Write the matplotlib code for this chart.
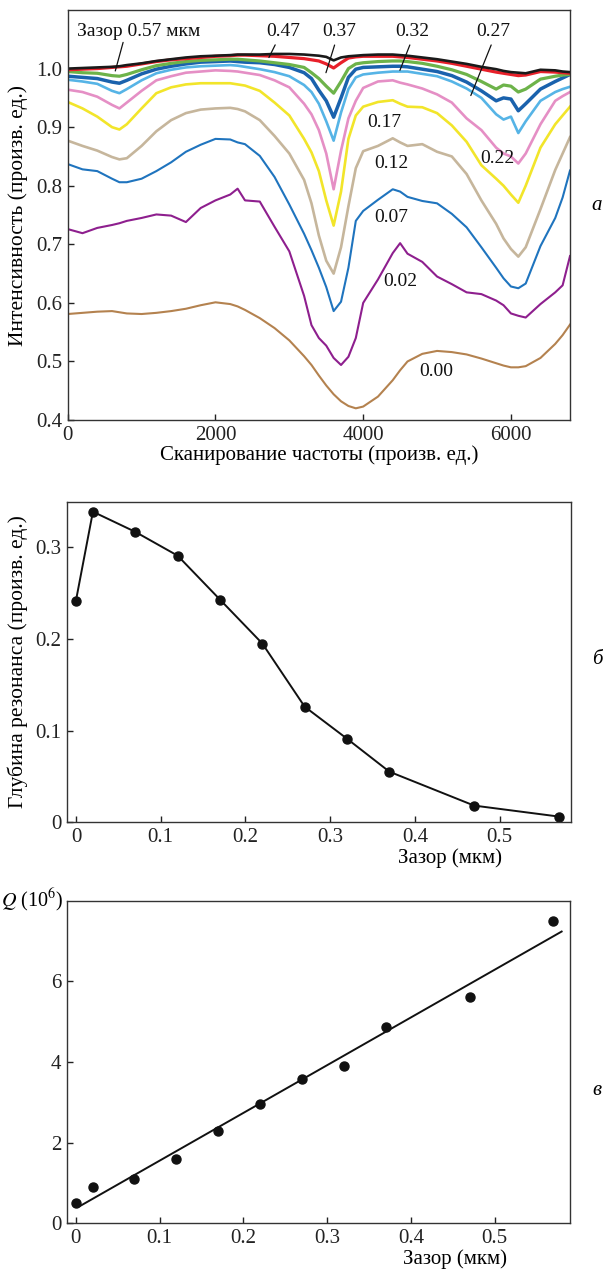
import numpy as np
import matplotlib
matplotlib.use('Agg')
import matplotlib.pyplot as plt

plt.rcParams['font.family'] = ['Liberation Serif', 'DejaVu Serif']
plt.rcParams['mathtext.fontset'] = 'stix'
plt.rcParams['font.size'] = 14

# frequency scan grid (arb. units)
scan = [0, 200, 400, 600, 700, 800, 1000, 1200, 1400, 1600, 1800, 2000, 2200, 2300,
        2400, 2600, 2800, 3000, 3200, 3300, 3400, 3500, 3600, 3700, 3800, 3900, 4000,
        4200, 4400, 4500, 4600, 4800, 5000, 5200, 5400, 5600, 5800, 5900, 6000, 6100,
        6200, 6400, 6600, 6700, 6800]

gap_000 = [0.581, 0.583, 0.585, 0.586, 0.584, 0.582, 0.581, 0.583, 0.586, 0.590, 0.596, 0.601, 0.598, 0.594,
           0.588, 0.574, 0.557, 0.536, 0.509, 0.494, 0.476, 0.459, 0.444, 0.432, 0.424, 0.420, 0.423,
           0.440, 0.468, 0.485, 0.500, 0.513, 0.518, 0.516, 0.512, 0.505, 0.497, 0.493, 0.490, 0.490,
           0.492, 0.506, 0.530, 0.545, 0.563]
gap_002 = [0.726, 0.719, 0.728, 0.733, 0.736, 0.740, 0.745, 0.751, 0.749, 0.738, 0.762, 0.775, 0.785, 0.795,
           0.775, 0.773, 0.730, 0.688, 0.612, 0.562, 0.540, 0.527, 0.506, 0.494, 0.508, 0.540, 0.600,
           0.640, 0.685, 0.702, 0.684, 0.670, 0.645, 0.632, 0.618, 0.615, 0.604, 0.596, 0.582, 0.578,
           0.575, 0.598, 0.618, 0.630, 0.680]
gap_007 = [0.837, 0.828, 0.825, 0.812, 0.806, 0.806, 0.812, 0.825, 0.840, 0.858, 0.870, 0.880, 0.879, 0.874,
           0.871, 0.851, 0.815, 0.768, 0.718, 0.690, 0.660, 0.627, 0.586, 0.602, 0.660, 0.740, 0.757,
           0.776, 0.794, 0.790, 0.781, 0.774, 0.770, 0.752, 0.729, 0.695, 0.660, 0.642, 0.628, 0.625,
           0.633, 0.697, 0.745, 0.780, 0.826]
gap_012 = [0.877, 0.868, 0.860, 0.849, 0.845, 0.847, 0.868, 0.893, 0.912, 0.924, 0.930, 0.932, 0.933, 0.931,
           0.927, 0.912, 0.885, 0.855, 0.810, 0.770, 0.715, 0.672, 0.650, 0.695, 0.765, 0.830, 0.859,
           0.868, 0.881, 0.874, 0.868, 0.871, 0.858, 0.850, 0.820, 0.775, 0.735, 0.710, 0.692, 0.679,
           0.695, 0.760, 0.827, 0.855, 0.883]
gap_017 = [0.943, 0.932, 0.918, 0.900, 0.896, 0.905, 0.932, 0.958, 0.968, 0.973, 0.975, 0.975, 0.975, 0.973,
           0.971, 0.962, 0.942, 0.920, 0.880, 0.857, 0.825, 0.775, 0.732, 0.790, 0.880, 0.920, 0.935,
           0.943, 0.946, 0.940, 0.935, 0.934, 0.924, 0.903, 0.875, 0.835, 0.812, 0.800, 0.785, 0.771,
           0.800, 0.865, 0.905, 0.920, 0.935]
gap_022 = [0.964, 0.960, 0.952, 0.938, 0.932, 0.942, 0.962, 0.980, 0.987, 0.993, 0.995, 0.997, 0.996, 0.995,
           0.993, 0.989, 0.980, 0.968, 0.940, 0.922, 0.895, 0.855, 0.794, 0.860, 0.915, 0.945, 0.967,
           0.978, 0.980, 0.976, 0.973, 0.966, 0.956, 0.942, 0.915, 0.895, 0.865, 0.855, 0.850, 0.838,
           0.855, 0.905, 0.945, 0.953, 0.960]
gap_027 = [0.981, 0.978, 0.974, 0.962, 0.958, 0.965, 0.980, 0.992, 0.998, 1.002, 1.004, 1.005, 1.006, 1.005,
           1.003, 0.999, 0.994, 0.987, 0.972, 0.960, 0.940, 0.910, 0.877, 0.925, 0.965, 0.985, 0.990,
           0.993, 0.995, 0.995, 0.995, 0.991, 0.987, 0.978, 0.966, 0.950, 0.922, 0.913, 0.918, 0.890,
           0.910, 0.945, 0.960, 0.965, 0.969]
gap_032 = [0.987, 0.985, 0.983, 0.977, 0.975, 0.980, 0.991, 0.999, 1.004, 1.008, 1.011, 1.012, 1.013, 1.012,
           1.011, 1.010, 1.007, 1.002, 0.993, 0.983, 0.963, 0.945, 0.917, 0.950, 0.985, 0.999, 1.002,
           1.003, 1.004, 1.004, 1.003, 0.999, 0.995, 0.988, 0.977, 0.962, 0.945, 0.950, 0.948, 0.928,
           0.940, 0.965, 0.978, 0.984, 0.990]
gap_037 = [0.995, 0.993, 0.992, 0.988, 0.987, 0.990, 0.998, 1.005, 1.009, 1.012, 1.014, 1.015, 1.016, 1.016,
           1.015, 1.013, 1.010, 1.007, 1.002, 0.993, 0.983, 0.970, 0.958, 0.978, 1.000, 1.008, 1.010,
           1.012, 1.013, 1.013, 1.012, 1.009, 1.004, 0.998, 0.990, 0.978, 0.965, 0.972, 0.970, 0.960,
           0.965, 0.982, 0.987, 0.989, 0.990]
gap_047 = [0.998, 0.999, 1.000, 1.002, 1.003, 1.004, 1.008, 1.012, 1.015, 1.017, 1.019, 1.021, 1.022, 1.023,
           1.023, 1.022, 1.021, 1.019, 1.017, 1.015, 1.013, 1.008, 1.001, 1.010, 1.018, 1.020, 1.021,
           1.021, 1.021, 1.020, 1.019, 1.016, 1.013, 1.009, 1.004, 0.999, 0.994, 0.992, 0.990, 0.988,
           0.989, 0.995, 0.994, 0.993, 0.992]
gap_057 = [1.000, 1.001, 1.002, 1.003, 1.004, 1.006, 1.009, 1.013, 1.016, 1.019, 1.021, 1.022, 1.023, 1.024,
           1.024, 1.024, 1.025, 1.025, 1.024, 1.023, 1.022, 1.020, 1.014, 1.019, 1.021, 1.022, 1.023,
           1.024, 1.024, 1.023, 1.022, 1.019, 1.016, 1.012, 1.008, 1.003, 0.999, 0.996, 0.994, 0.993,
           0.992, 0.998, 0.997, 0.995, 0.994]

# panels б and в
gaps = [0.0, 0.02, 0.07, 0.12, 0.17, 0.22, 0.27, 0.32, 0.37, 0.47, 0.57]
depth = [0.242, 0.339, 0.317, 0.291, 0.243, 0.195, 0.126, 0.091, 0.055, 0.018, 0.006]
q_factor = [0.5, 0.9, 1.1, 1.6, 2.3, 2.97, 3.58, 3.91, 4.87, 5.62, 7.5]

curves = [
    (gap_000, '#b4824f', 1.5),
    (gap_002, '#8e1f8e', 1.5),
    (gap_007, '#1f74be', 1.5),
    (gap_012, '#c6b69c', 1.9),
    (gap_017, '#f2e52a', 1.9),
    (gap_022, '#e58fc5', 1.9),
    (gap_027, '#56b4e6', 1.9),
    (gap_032, '#1a62ad', 2.5),
    (gap_037, '#6db34a', 2.3),
    (gap_047, '#e8202a', 2.3),
    (gap_057, '#1a1a1a', 1.9),
]

fig = plt.figure(figsize=(6.03, 12.69), dpi=100)
ax1 = fig.add_axes([0.1123, 0.669, 0.833, 0.3231])
ax2 = fig.add_axes([0.1111, 0.3522, 0.8353, 0.2525])
ax3 = fig.add_axes([0.1111, 0.036, 0.8342, 0.2542])

for ax in (ax1, ax2, ax3):
    for s in ax.spines.values():
        s.set_linewidth(1.0)
        s.set_color('#333333')
    ax.tick_params(direction='in', length=4, width=1.0, labelsize=15, pad=4,
                   colors='#222222', top=False, right=False)

# (а) spectra
for ys, c, lw in curves:
    ax1.plot(scan, ys, color=c, lw=lw)
ax1.set_xlim(0, 6800)
ax1.set_ylim(0.4, 1.1)
ax1.set_xticks([0, 2000, 4000, 6000])
ax1.set_yticks([0.4, 0.5, 0.6, 0.7, 0.8, 0.9, 1.0])
ax1.set_yticklabels(['0.4', '0.5', '0.6', '0.7', '0.8', '0.9', '1.0'])
ax1.text(-0.099, 0.5, 'Интенсивность (произв. ед.)', transform=ax1.transAxes,
         rotation=90, ha='center', va='center', fontsize=15.5)
ax1.text(0.5, -0.086, 'Сканирование частоты (произв. ед.)', transform=ax1.transAxes,
         ha='center', va='center', fontsize=15)

lbl = dict(fontsize=14, color='#111111')
ax1.annotate('Зазор 0.57 мкм', xy=(644, 0.996), xytext=(126, 1.064),
             ha='left', va='center', arrowprops=dict(arrowstyle='-', lw=0.9, color='#111111',
                                                    shrinkA=0, shrinkB=0,
                                                    relpos=(0.38, 0.0)), **lbl)
ax1.annotate('0.47', xy=(2724, 1.019), xytext=(2913, 1.064), ha='center', va='center',
             arrowprops=dict(arrowstyle='-', lw=0.9, color='#111111', shrinkA=2, shrinkB=0,
                             relpos=(0.35, 0.0)), **lbl)
ax1.annotate('0.37', xy=(3496, 0.993), xytext=(3682, 1.064), ha='center', va='center',
             arrowprops=dict(arrowstyle='-', lw=0.9, color='#111111', shrinkA=2, shrinkB=0,
                             relpos=(0.4, 0.0)), **lbl)
ax1.annotate('0.32', xy=(4497, 0.997), xytext=(4660, 1.064), ha='center', va='center',
             arrowprops=dict(arrowstyle='-', lw=0.9, color='#111111', shrinkA=2, shrinkB=0,
                             relpos=(0.5, 0.0)), **lbl)
ax1.annotate('0.27', xy=(5457, 0.954), xytext=(5762, 1.064), ha='center', va='center',
             arrowprops=dict(arrowstyle='-', lw=0.9, color='#111111', shrinkA=2, shrinkB=0,
                             relpos=(0.5, 0.0)), **lbl)
ax1.text(4290, 0.908, '0.17', ha='center', va='center', **lbl)
ax1.text(4384, 0.838, '0.12', ha='center', va='center', **lbl)
ax1.text(5810, 0.846, '0.22', ha='center', va='center', **lbl)
ax1.text(4384, 0.746, '0.07', ha='center', va='center', **lbl)
ax1.text(4500, 0.637, '0.02', ha='center', va='center', **lbl)
ax1.text(4990, 0.483, '0.00', ha='center', va='center', **lbl)

# (б) resonance depth
ax2.plot(gaps, depth, color='#111111', lw=1.4, marker='o', ms=6.5)
ax2.set_xlim(-0.0106, 0.584)
ax2.set_ylim(0, 0.35)
ax2.set_xticks([0, 0.1, 0.2, 0.3, 0.4, 0.5])
ax2.set_xticklabels(['0', '0.1', '0.2', '0.3', '0.4', '0.5'])
ax2.set_yticks([0, 0.1, 0.2, 0.3])
ax2.set_yticklabels(['0', '0.1', '0.2', '0.3'])
ax2.text(-0.097, 0.5, 'Глубина резонанса (произв. ед.)', transform=ax2.transAxes,
         rotation=90, ha='center', va='center', fontsize=15.5)
ax2.text(0.76, -0.112, 'Зазор (мкм)', transform=ax2.transAxes,
         ha='center', va='center', fontsize=15)

# (в) Q factor with linear fit
k, b = np.polyfit(gaps, q_factor, 1)
xfit = np.array([0.005, 0.58])
ax3.plot(xfit, k * xfit + b, color='#111111', lw=1.4)
ax3.plot(gaps, q_factor, 'o', color='#111111', ms=6.5)
ax3.set_xlim(-0.0106, 0.59)
ax3.set_ylim(0, 8)
ax3.set_xticks([0, 0.1, 0.2, 0.3, 0.4, 0.5])
ax3.set_xticklabels(['0', '0.1', '0.2', '0.3', '0.4', '0.5'])
ax3.set_yticks([0, 2, 4, 6])
ax3.text(-0.008, 1.0, r'$Q$ (10$^{6}$)', transform=ax3.transAxes,
         ha='right', va='center', fontsize=14.5)
ax3.text(0.771, -0.11, 'Зазор (мкм)', transform=ax3.transAxes,
         ha='center', va='center', fontsize=15)

# panel letters
for y, letter in [(0.838, 'а'), (0.48, 'б'), (0.141, 'в')]:
    fig.text(0.99, y, letter, ha='center', va='center', fontsize=15, style='italic')

fig.savefig('out.png', dpi=100)
